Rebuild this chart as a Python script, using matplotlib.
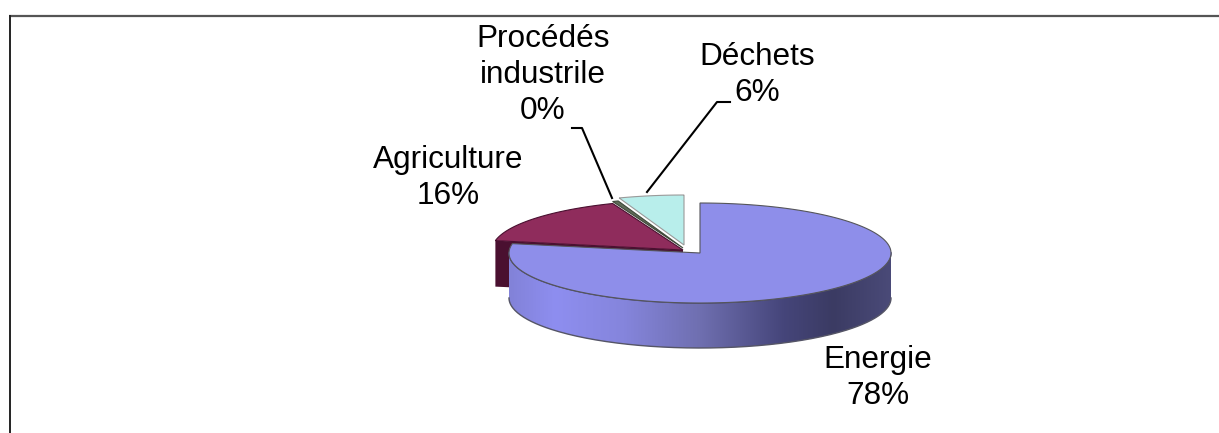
import matplotlib
matplotlib.use('Agg')
import matplotlib.pyplot as plt
import numpy as np
from matplotlib.colors import LinearSegmentedColormap
from matplotlib.patches import Polygon

plt.rcParams['font.family'] = ['Liberation Sans', 'DejaVu Sans']

# Data
categories = ['Energie', 'Agriculture', 'Procédés\nindustrile', 'Déchets']
values = [78, 16, 0.49, 5.51]

# Look of each slice, same order as categories
top_colors = ['#8e8eea', '#8f2c5c', '#5f6b58', '#b8eeeb']
edge_colors = ['#55555a', '#4a1030', '#3f4a3a', '#9a9a9a']
side_colors = ['#3c3c66', '#4a1030', '#39402f', '#7fb0ae']
centers = [(700, 253), (683, 250), (683, 248), (684, 245)]
label_pos = [(878, 378), (448, 178), (543, 75), (757, 75)]

RX = 191
RY = 50
DEPTH = 45


def rim(cx, cy, start, end, n=200):
    # angles in fractions of the circle, clockwise from 12 o'clock
    t = np.linspace(start, end, n) * 2 * np.pi
    return cx + RX * np.sin(t), cy - RY * np.cos(t)


fig = plt.figure(figsize=(12.19, 4.33), dpi=100)
ax = fig.add_axes([0, 0, 1, 1])
ax.set_xlim(0, 1219)
ax.set_ylim(433, 0)
ax.axis('off')

# frame: top and left only
ax.plot([9, 1219], [15.5, 15.5], color='#555555', lw=1.6, solid_capstyle='butt')
ax.plot([9.5, 9.5], [15, 433], color='#222222', lw=1.4, solid_capstyle='butt')

fractions = np.array(values) / sum(values)
starts = np.concatenate([[0], np.cumsum(fractions)[:-1]])
ends = np.cumsum(fractions)

# back slices first, energy goes on top
for i in [3, 2, 1, 0]:
    cx, cy = centers[i]
    x, y = rim(cx, cy, starts[i], ends[i])
    z = 2 + (3 - i)

    if i == 1:
        # dark side of the agriculture slice
        sx = [x[0], x[0], cx, cx]
        sy = [y[0], y[0] + DEPTH + 1, cy + DEPTH, cy]
        ax.add_patch(Polygon(np.column_stack([sx, sy]), closed=True,
                             fc=side_colors[i], ec='none', zorder=z))

    if i == 0:
        # front wall with gradient, only the part facing us
        wx, wy = rim(cx, cy, 0.25, 0.75)
        wall = np.column_stack([np.r_[wx, wx[::-1]], np.r_[wy, wy[::-1] + DEPTH]])
        stops = [(0.0, '#8282d8'), (0.12, '#8e8ef0'), (0.3, '#8585dc'), (0.5, '#6f6fb0'),
                 (0.72, '#45457a'), (0.85, '#3b3b63'), (1.0, '#4a4a78')]
        cmap = LinearSegmentedColormap.from_list('wall', stops)
        grad = np.linspace(0, 1, 256).reshape(1, -1)
        im = ax.imshow(grad, cmap=cmap, extent=[cx - RX, cx + RX, cy + RY + DEPTH, cy - 20],
                       aspect='auto', zorder=z, interpolation='bilinear')
        patch = Polygon(wall, closed=True, fc='none', ec='none', transform=ax.transData)
        ax.add_patch(patch)
        im.set_clip_path(patch)
        ax.plot(wx, wy + DEPTH, color='#555566', lw=1, zorder=z + 1)
        ax.plot(wx, wy, color='#4a4a70', lw=1.1, zorder=z + 1)
        ax.set_xlim(0, 1219)
        ax.set_ylim(433, 0)

    poly = np.column_stack([np.r_[cx, x], np.r_[cy, y]])
    ax.add_patch(Polygon(poly, closed=True, fc=top_colors[i], ec=edge_colors[i], lw=0.8, zorder=z + 2))

# labels
for i, name in enumerate(categories):
    txt = name + '\n' + f'{values[i]:.0f}%'
    ax.text(label_pos[i][0], label_pos[i][1], txt, fontsize=22.7, ha='center', va='center',
            linespacing=1.27, color='black', zorder=10)

# leader lines
ax.plot([572, 582, 612], [128, 128, 198], color='black', lw=1.5, zorder=9)
ax.plot([730, 717, 647], [102, 102, 192], color='black', lw=1.5, zorder=9)

fig.savefig('out.png', dpi=100)
